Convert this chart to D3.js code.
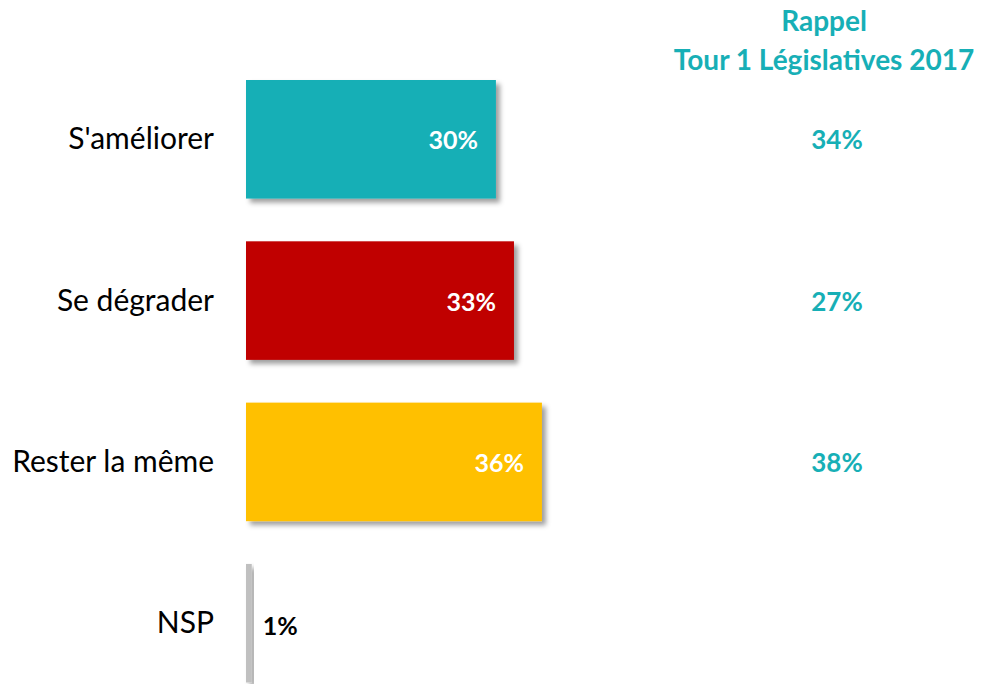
<!DOCTYPE html>
<html>
<head>
<meta charset="utf-8">
<script src="https://d3js.org/d3.v7.min.js"></script>
<style>
    body { margin: 0; background: #ffffff; }
    text { font-family: Lato, "Open Sans", sans-serif; }
    .cat-label { font-size: 30px; fill: #000000; }
    .bar-label { font-size: 25px; font-weight: 700; }
    .head { font-size: 28px; font-weight: 700; fill: #17AFB6; }
    .recall { font-size: 26px; font-weight: 700; fill: #17AFB6; }
</style>
</head>
<body>
<div id="chart"></div>
<script>

    // data
    const categories = ["S'améliorer", "Se dégrader", "Rester la même", "NSP"];
    const values = [30.4, 32.6, 36.0, 0.7];
    const colors = ["#13AFB6", "#C00000", "#FFC000", "#C0C0C0"];
    const labelColors = ["#ffffff", "#ffffff", "#ffffff", "#000000"];
    const recall = [34, 27, 38, null];
    const headerLines = ["Rappel", "Tour 1 Législatives 2017"];

    const width = 986, height = 684;

    const svg = d3.select("#chart")
        .append("svg")
        .attr("width", width)
        .attr("height", height);

    // drop shadow for the bars
    const defs = svg.append("defs");
    const filter = defs.append("filter")
        .attr("id", "shadow")
        .attr("x", "-20%").attr("y", "-20%")
        .attr("width", "150%").attr("height", "150%");
    filter.append("feDropShadow")
        .attr("dx", 4)
        .attr("dy", 4)
        .attr("stdDeviation", 2.5)
        .attr("flood-color", "#000000")
        .attr("flood-opacity", 0.38);

    // scales
    const x = d3.scaleLinear()
        .domain([0, 100])
        .range([246, 246 + 822]);

    const y = d3.scaleBand()
        .domain(categories)
        .range([80, 682.5])
        .paddingInner(0.265)
        .paddingOuter(0);

    const rows = categories.map((c, i) => ({
        cat: c, value: values[i], color: colors[i],
        labelColor: labelColors[i], recall: recall[i]
    }));

    // bars
    svg.selectAll("rect.bar")
        .data(rows)
        .join("rect")
        .attr("class", "bar")
        .attr("x", x(0))
        .attr("y", d => y(d.cat))
        .attr("width", d => x(d.value) - x(0))
        .attr("height", y.bandwidth())
        .attr("fill", d => d.color)
        .attr("filter", "url(#shadow)");

    // category labels
    svg.selectAll("text.cat-label")
        .data(rows)
        .join("text")
        .attr("class", "cat-label")
        .attr("x", 214)
        .attr("y", d => y(d.cat) + y.bandwidth() / 2 + 10)
        .attr("text-anchor", "end")
        .text(d => d.cat);

    // value labels (inside the bar, or just after it when too small)
    svg.selectAll("text.bar-label")
        .data(rows)
        .join("text")
        .attr("class", "bar-label")
        .attr("x", d => d.value > 5 ? x(d.value) - 18 : x(d.value) + 11)
        .attr("y", d => y(d.cat) + y.bandwidth() / 2 + (d.value > 5 ? 10 : 12))
        .attr("text-anchor", d => d.value > 5 ? "end" : "start")
        .attr("fill", d => d.labelColor)
        .text(d => Math.round(d.value) + "%");

    // recall column
    svg.selectAll("text.head")
        .data(headerLines)
        .join("text")
        .attr("class", "head")
        .attr("x", 824)
        .attr("y", (d, i) => 31 + i * 39)
        .attr("text-anchor", "middle")
        .text(d => d);

    svg.selectAll("text.recall")
        .data(rows.filter(d => d.recall !== null))
        .join("text")
        .attr("class", "recall")
        .attr("x", 837)
        .attr("y", d => y(d.cat) + y.bandwidth() / 2 + 10)
        .attr("text-anchor", "middle")
        .text(d => d.recall + "%");

</script>
</body>
</html>
